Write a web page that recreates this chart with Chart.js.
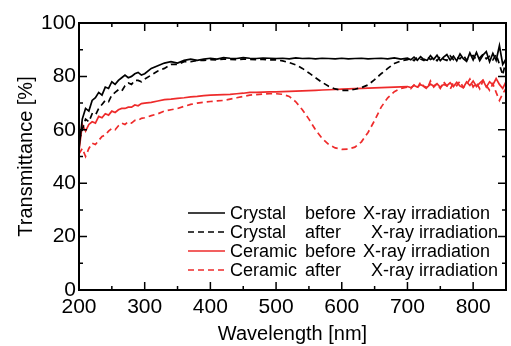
<!DOCTYPE html>
<html>
<head>
<meta charset="utf-8">
<script src="https://cdn.jsdelivr.net/npm/chart.js@4.4.1/dist/chart.umd.min.js"></script>
<style>
	body { margin: 0; background: #fff; }
	#chart-wrap { width: 511px; height: 346px; }
</style>
</head>
<body>
<div id="chart-wrap"><canvas id="chart-trans" width="511" height="346"></canvas></div>
<script>
// Data
// ================================================================================
let wavelengths = [200, 205, 210, 215, 220, 225, 230, 235, 240, 245,
	250, 255, 260, 265, 270, 275, 280, 285, 290, 295, 300,
	310, 320, 330, 340, 350, 360, 370, 380, 390,
	400, 410, 420, 430, 440, 450, 460, 470, 480, 490,
	500, 510, 520, 530, 540, 550, 560, 570, 580, 590,
	600, 610, 620, 630, 640, 650, 660, 670, 680, 690,
	700, 705, 710, 715, 720, 725, 730, 735, 740, 745,
	750, 755, 760, 765, 770, 775, 780, 785, 790, 795,
	800, 805, 810, 815, 820, 825, 830, 835, 840, 845, 850];

let crystal_before = [53, 64, 68, 67, 71, 72, 74, 73, 76, 75.5,
	78, 77, 78.5, 79.5, 80.5, 79.5, 80, 81, 81.5, 80.5, 81,
	83, 84, 85, 85.5, 85, 86, 86.5, 86, 86.5,
	86.8, 86.5, 87, 86.8, 86.7, 87, 86.8, 86.7, 86.9, 86.8,
	86.7, 86.8, 86.6, 86.9, 86.7, 86.8, 86.6, 86.8, 86.7, 86.6,
	86.8, 86.6, 86.7, 86.8, 86.6, 86.7, 86.8, 86.6, 86.9, 86.5,
	86.8, 86.2, 87.2, 86.0, 87.4, 86.3, 86.0, 87.8, 86.4, 87.9,
	85.9, 87.2, 88.2, 86.1, 87.6, 85.8, 88.4, 86.6, 85.6, 88.8,
	86.2, 89.0, 85.9, 88.0, 89.3, 85.5, 88.6, 86.0, 91.5, 84.5, 86.5];

let crystal_after = [56, 60, 64, 63, 66, 65.5, 68, 69.5, 71, 70.5,
	73, 74, 75, 74.5, 76.5, 77.5, 77, 78.5, 78.5, 78, 79,
	80.5, 82, 83, 84.5, 84.5, 85.5, 85.5, 86, 86,
	86.3, 86.2, 86.5, 86.4, 86.3, 86.5, 86.4, 86.3, 86.4, 86.2,
	86.2, 85.8, 85.2, 84.3, 83, 81.3, 79.5, 77.8, 76.3, 75.3,
	74.8, 74.8, 75.2, 75.8, 76.8, 78.8, 81, 83, 84.8, 85.8,
	86.3, 86.8, 85.9, 87.2, 86.5, 86.0, 87.4, 86.3, 87.0, 85.9,
	87.5, 86.4, 86.0, 87.7, 86.3, 87.2, 86.6, 88.0, 86.1, 87.4,
	87.8, 86.3, 87.0, 88.3, 86.6, 87.5, 86.2, 88.2, 84.5, 80.5, 86];

let ceramic_before = [52, 62, 59.5, 62, 63, 62.5, 65, 64.5, 66, 65.5,
	67, 66.5, 67.5, 68, 68, 68.5, 68.5, 69.3, 69, 69.8, 70,
	70.3, 70.8, 71.3, 71.5, 71.8, 72, 72.3, 72.5, 72.8,
	73, 73.1, 73.2, 73.3, 73.5, 73.7, 74, 74, 74.1, 74.2,
	74.2, 74.3, 74.4, 74.5, 74.6, 74.7, 74.8, 74.9, 75, 75.1,
	75.2, 75.3, 75.4, 75.5, 75.6, 75.7, 75.8, 75.9, 76, 76.1,
	76.2, 75.8, 76.6, 76.0, 76.9, 76.3, 75.9, 77.1, 76.4, 77.3,
	75.9, 77.0, 76.5, 77.6, 76.2, 77.8, 76.4, 75.8, 77.9, 76.6,
	78.3, 76.2, 77.5, 78.6, 76.0, 78.0, 76.8, 79.2, 77.0, 75.5, 78];

let ceramic_after = [51, 53, 50, 53, 55, 54.5, 56, 57.5, 58, 59.5,
	60.5, 60, 61.5, 62.5, 62, 63, 62.5, 63.5, 63.5, 64.3, 64.5,
	65.3, 66, 67, 67.5, 68, 68.8, 69.5, 70, 70.3,
	70.6, 70.8, 71, 71.5, 72, 72.5, 73, 73.2, 73.4, 73.5,
	73.5, 73.3, 72.5, 70.5, 67.5, 64, 60, 56.8, 54.5, 53.2,
	52.7, 52.8, 53.5, 55.5, 59, 63.5, 68.5, 72, 74.3, 75.5,
	76, 75.4, 76.8, 75.6, 77.9, 76.2, 75.3, 78.3, 76.0, 77.2,
	75.5, 78.0, 76.4, 75.2, 77.6, 76.5, 78.2, 75.8, 77.0, 79.0,
	76.0, 77.6, 75.4, 78.4, 76.6, 74.8, 77.2, 74.0, 71.0, 73.5, 75.5];

let legend_material = ["Crystal", "Crystal", "Ceramic", "Ceramic"];
let legend_state = ["before", "after", "before", "after"];
let legend_suffix = ["X-ray irradiation", "X-ray irradiation", "X-ray irradiation", "X-ray irradiation"];

let black = '#000000';
let red = '#ee2b2b';

let to_points = (values) => wavelengths.map((w, i) => ({x: w, y: values[i]}));

// Plugins
// ================================================================================
let frame_plugin = {
	id: 'frame',
	afterDatasetsDraw(chart) {
		let ctx = chart.ctx;
		let a = chart.chartArea;
		let xs = chart.scales.x, ys = chart.scales.y;
		ctx.save();
		ctx.strokeStyle = '#000';
		ctx.lineWidth = 1.5;
		ctx.beginPath();
		xs.ticks.forEach(t => {
			let px = xs.getPixelForValue(t.value);
			let len = t.value % 100 === 0 ? 8 : 4;
			ctx.moveTo(px, a.bottom); ctx.lineTo(px, a.bottom - len);
			ctx.moveTo(px, a.top); ctx.lineTo(px, a.top + len);
		});
		ys.ticks.forEach(t => {
			let py = ys.getPixelForValue(t.value);
			let len = t.value % 20 === 0 ? 8 : 4;
			ctx.moveTo(a.left, py); ctx.lineTo(a.left + len, py);
			ctx.moveTo(a.right, py); ctx.lineTo(a.right - len, py);
		});
		ctx.stroke();
		ctx.lineWidth = 2;
		ctx.strokeRect(a.left, a.top, a.right - a.left, a.bottom - a.top);
		ctx.restore();
	}
};

let inner_legend_plugin = {
	id: 'innerLegend',
	afterDatasetsDraw(chart) {
		let ctx = chart.ctx;
		let rows = [213, 232, 251, 270];
		ctx.save();
		ctx.font = '18px "Liberation Sans", Arial, sans-serif';
		ctx.fillStyle = '#000';
		ctx.textBaseline = 'middle';
		chart.data.datasets.forEach((ds, i) => {
			let y = rows[i];
			ctx.strokeStyle = ds.borderColor;
			ctx.lineWidth = ds.borderWidth;
			ctx.setLineDash(ds.borderDash || []);
			ctx.beginPath();
			ctx.moveTo(188, y);
			ctx.lineTo(225, y);
			ctx.stroke();
			ctx.setLineDash([]);
			ctx.fillText(legend_material[i], 230, y + 1);
			ctx.fillText(legend_state[i], 305, y + 1);
			ctx.fillText(legend_suffix[i], legend_state[i] === 'before' ? 363 : 371, y + 1);
		});
		ctx.restore();
	}
};

// Chart
// ================================================================================
let font_family = '"Liberation Sans", Arial, sans-serif';

new Chart(document.getElementById('chart-trans'), {
	type: 'line',
	data: {
		datasets: [
			{label: 'Crystal before X-ray irradiation', data: to_points(crystal_before),
				borderColor: black, borderWidth: 1.7},
			{label: 'Crystal after X-ray irradiation', data: to_points(crystal_after),
				borderColor: black, borderWidth: 1.7, borderDash: [6, 4]},
			{label: 'Ceramic before X-ray irradiation', data: to_points(ceramic_before),
				borderColor: red, borderWidth: 1.7},
			{label: 'Ceramic after X-ray irradiation', data: to_points(ceramic_after),
				borderColor: red, borderWidth: 1.7, borderDash: [6, 4]}
		]
	},
	options: {
		responsive: false,
		animation: false,
		layout: {padding: {top: 23, right: 1, left: 0, bottom: 0}},
		elements: {point: {radius: 0}, line: {tension: 0, fill: false}},
		plugins: {legend: {display: false}, tooltip: {enabled: false}},
		scales: {
			x: {
				type: 'linear', min: 200, max: 850,
				grid: {display: false, drawTicks: false},
				border: {display: false},
				ticks: {
					stepSize: 50, autoSkip: false, maxRotation: 0, padding: 5,
					color: '#000', font: {size: 21, family: font_family},
					callback: v => (v % 100 === 0 && v < 850) ? v : ''
				},
				title: {display: true, text: 'Wavelength [nm]', color: '#000',
					font: {size: 20, family: font_family}, padding: {top: 0, bottom: 0}},
				afterFit: s => { s.height = 56; }
			},
			y: {
				min: 0, max: 100,
				grid: {display: false, drawTicks: false},
				border: {display: false},
				ticks: {
					stepSize: 10, autoSkip: false, padding: 3,
					color: '#000', font: {size: 21, family: font_family},
					callback: v => v % 20 === 0 ? v : ''
				},
				title: {display: true, text: 'Transmittance [%]', color: '#000',
					font: {size: 20, family: font_family}, padding: {top: 14, bottom: 0}},
				afterFit: s => { s.width = 79; }
			}
		}
	},
	plugins: [frame_plugin, inner_legend_plugin]
});
</script>
</body>
</html>
